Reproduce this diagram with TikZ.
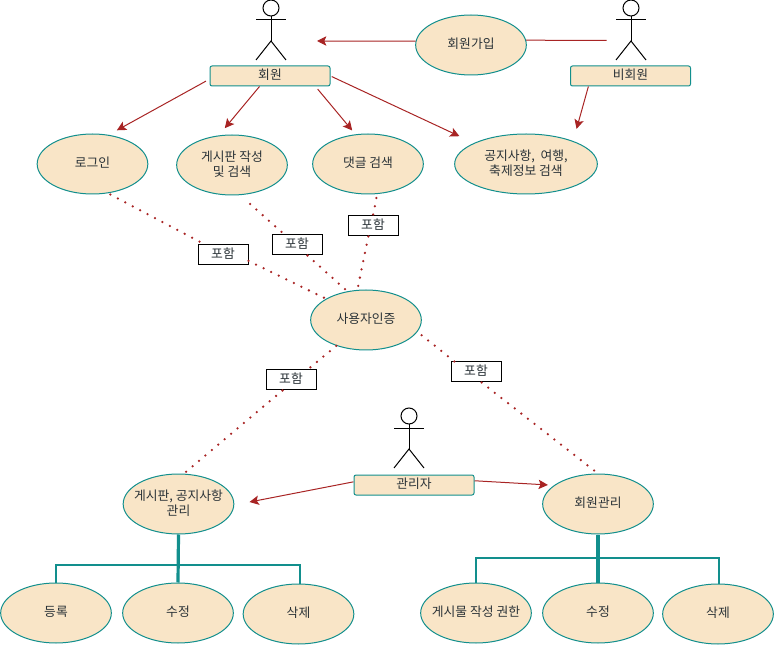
\documentclass[tikz,border=0pt]{standalone}
\usepackage{fontspec}
\setmainfont{Noto Sans CJK KR}
\usetikzlibrary{shapes.geometric,arrows.meta}
\definecolor{tealline}{HTML}{128F8D}
\definecolor{peach}{HTML}{F9E5C7}
\definecolor{brickred}{HTML}{A82424}
\definecolor{inkgray}{HTML}{2B3338}
\newcommand{\ctext}[1]{\smash{\makebox[0pt]{\raisebox{-.33em}{\begin{tabular}{@{}c@{}}#1\end{tabular}}}}}
\newcommand{\stickman}[2]{%
  \draw[black,line width=.75pt] (#1,#2) circle[radius=6pt];
  \draw[black,line width=.75pt] (#1,#2+8) -- (#1,#2+33);
  \draw[black,line width=.75pt] (#1-15,#2+12) -- (#1+15,#2+12);
  \draw[black,line width=.75pt] (#1-15,#2+52) -- (#1,#2+33) -- (#1+15,#2+52);
}
\tikzset{
  usecase/.style={ellipse,draw=tealline,fill=peach,line width=.75pt,inner sep=0pt,
    minimum width=83pt,minimum height=45pt,text=inkgray,font=\fontsize{9.6}{11.6}\selectfont},
  widecase/.style={usecase,minimum width=107pt},
  actorbox/.style={rectangle,rounded corners=1.5pt,draw=tealline,fill=peach,line width=.75pt,
    minimum width=90pt,minimum height=15pt,inner sep=0pt,text=inkgray,font=\fontsize{9.6}{11.6}\selectfont},
  incbox/.style={rectangle,draw=black,fill=white,line width=.75pt,minimum width=37.5pt,
    minimum height=15pt,inner sep=0pt,text=inkgray,font=\fontsize{9.6}{11.6}\selectfont},
  arr/.style={-{Stealth[length=7pt,width=7pt,inset=1.5pt]},draw=brickred,line width=.75pt},
  plainarr/.style={draw=brickred,line width=.75pt},
  incl/.style={draw=brickred,line width=1.9pt,line cap=round,dash pattern=on 0pt off 6.3pt},
  trunk/.style={draw=tealline,line width=2.4pt},
  branch/.style={draw=tealline,line width=1.5pt}
}
\begin{document}
\begin{tikzpicture}[x=.75pt,y=-.75pt]
\useasboundingbox (0,0) rectangle (775,645);
% actors
\stickman{271}{8}
\stickman{631}{8}
\stickman{409}{416}
\node[actorbox] (member) at (270,76) {\ctext{회원}};
\node[actorbox] (guest) at (630.5,76) {\ctext{비회원}};
\node[actorbox] (admin) at (414,485) {\ctext{관리자}};
\coordinate (memberside) at (317,41);
\coordinate (guestside) at (606.5,40.5);
% use cases
\node[usecase] (join) at (471,45) {\ctext{회원가입}};
\node[usecase] (login) at (92.5,164) {\ctext{로그인}};
\node[usecase] (write) at (232,165) {\ctext{게시판 작성\\및 검색}};
\node[usecase] (reply) at (368,164) {\ctext{댓글 검색}};
\node[widecase] (notice) at (526,164) {\ctext{공지사항, ~여행,\\축제정보 검색}};
\node[usecase] (auth) at (366,320) {\ctext{사용자인증}};
\node[usecase] (board) at (178.5,504) {\ctext{게시판, 공지사항\\관리}};
\node[usecase] (manage) at (598,504) {\ctext{회원관리}};
\node[usecase] (regist) at (56,613) {\ctext{등록}};
\node[usecase] (edita) at (178,613) {\ctext{수정}};
\node[usecase] (dela) at (298.5,614) {\ctext{삭제}};
\node[usecase] (perm) at (476,613) {\ctext{게시물 작성 권한}};
\node[usecase] (editb) at (598,613) {\ctext{수정}};
\node[usecase] (delb) at (718,614) {\ctext{삭제}};
% labels on the dotted lines
\node[incbox] (inca) at (223,255) {\ctext{포함}};
\node[incbox] (incb) at (297,245) {\ctext{포함}};
\node[incbox] (incc) at (373,226) {\ctext{포함}};
\node[incbox] (incd) at (291,380) {\ctext{포함}};
\node[incbox] (ince) at (476,372) {\ctext{포함}};
% arrows
\draw[arr,shorten <=3pt,shorten >=7pt] (member.183) -- (login.61);
\draw[arr,shorten >=7pt] (member.225) -- (write.114);
\draw[arr,shorten <=2.5pt,shorten >=3.7pt] (member.-13) -- (reply.113);
\draw[arr,shorten <=1pt,shorten >=12pt] (member.east) -- (notice.158);
\draw[arr,shorten >=9.4pt] (guest.194) -- (notice.26);
\draw[arr] (join.176) -- (memberside);
\draw[plainarr] (join.5) -- (guestside);
\draw[arr,shorten >=11.6pt] (admin.177) -- (board.-1);
\draw[arr,shorten >=4.5pt] (admin.4.7) -- (manage.157);
% dotted
\draw[incl,shorten <=2pt] (login.-62) -- (inca.150);
\draw[incl] (inca.-13) -- (auth.152);
\draw[incl,shorten <=10pt] (write.-75) -- (incb.140);
\draw[incl] (incb.-45) -- (auth.123);
\draw[incl,shorten <=3pt] (reply.-73) -- (incc.north);
\draw[incl,shorten >=2.5pt] (incc.246) -- (auth.106);
\draw[incl] (auth.221) -- (incd.32);
\draw[incl,shorten >=1pt] (incd.231) -- (board.80);
\draw[incl,shorten <=4pt] (auth.-13) -- (ince.154);
\draw[incl,shorten >=1.5pt] (ince.-62) -- (manage.north);
% trees
\draw[trunk] (board.south) -- (edita.north);
\draw[branch] (regist.north) -- ++(0,-18) -| (dela.88);
\draw[trunk] (manage.south) -- (editb.north);
\draw[branch] (perm.north) -- ++(0,-25) -| (delb.88);
\end{tikzpicture}
\end{document}
